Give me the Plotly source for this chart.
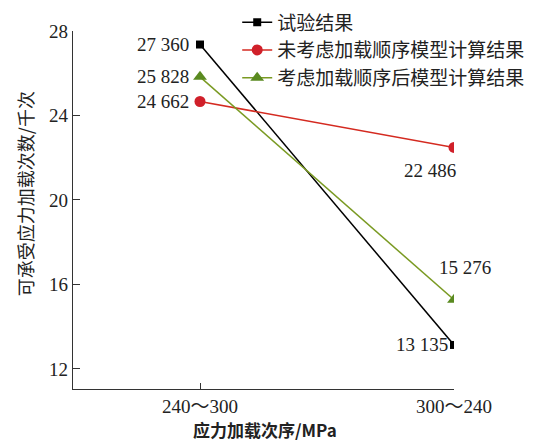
import plotly.graph_objects as go

categories = ["240～300", "300～240"]
series_names = ["试验结果", "未考虑加载顺序模型计算结果", "考虑加载顺序后模型计算结果"]
test_values = [27.360, 13.135]
model_no_order = [24.662, 22.486]
model_order = [25.828, 15.276]
y_ticks = [12, 16, 20, 24, 28]

FONT = "Liberation Serif, Times New Roman, Noto Sans CJK SC"
CJK = "Noto Sans CJK SC"

def fmt(v):
    return f"{int(round(v * 1000)):,}".replace(",", " ")

fig = go.Figure()
specs = [
    (test_values, "#000000", "#000000", "square", 8),
    (model_no_order, "#d42a20", "#d0202a", "circle", 11),
    (model_order, "#7a9a22", "#5a8a20", "triangle-up", 12),
]
for name, (vals, col, mcol, sym, sz) in zip(series_names, specs):
    fig.add_trace(go.Scatter(
        x=[0, 1], y=vals, name=name, mode="lines+markers",
        line=dict(color=col, width=1.5),
        marker=dict(symbol=sym, size=sz, color=mcol),
    ))

# value labels: (xshift, yshift, xanchor, yanchor)
label_pos = [
    [(-9, 0, "right", "middle"), (-4, 0, "right", "middle")],
    [(-9, 0, "right", "middle"), (-24, -11, "center", "top")],
    [(-9, 0, "right", "middle"), (11, 20, "center", "bottom")],
]
for i, vals in enumerate([test_values, model_no_order, model_order]):
    for j, v in enumerate(vals):
        dx, dy, xa, ya = label_pos[i][j]
        fig.add_annotation(x=j, y=v, text=fmt(v), showarrow=False,
                           xshift=dx, yshift=dy, xanchor=xa, yanchor=ya,
                           font=dict(size=19, color="#222", family=FONT))

fig.update_layout(
    width=551, height=433,
    margin=dict(l=65, r=105, t=23, b=52, autoexpand=False),
    paper_bgcolor="white", plot_bgcolor="white",
    font=dict(family=FONT, size=19, color="#222"),
    legend=dict(x=0.431, y=1.077, xanchor="left", yanchor="top",
                font=dict(size=19, family=CJK, color="#222"),
                bgcolor="rgba(0,0,0,0)", tracegroupgap=0, itemwidth=30),
    xaxis=dict(range=[-0.5, 1], tickmode="array", tickvals=[0, 1], ticktext=categories,
               showline=True, linecolor="#333", linewidth=1.2, ticks="inside",
               ticklen=6, tickcolor="#333", showgrid=False, zeroline=False,
               automargin=False),
    yaxis=dict(range=[11.05, 28], tickvals=y_ticks, showline=True, linecolor="#333",
               linewidth=1.2, ticks="inside", ticklen=7, tickcolor="#333",
               showgrid=False, zeroline=False, automargin=False),
)
fig.add_annotation(xref="paper", yref="paper", x=0.698, y=-0.072, yanchor="top",
                   text="<b>应力加载次序/MPa</b>", showarrow=False,
                   font=dict(size=17, family=CJK, color="#222"))
fig.add_annotation(xref="paper", yref="paper", x=-0.126, y=0.547, xanchor="center",
                   text="可承受应力加载次数/千次", textangle=-90, showarrow=False,
                   font=dict(size=18, family=CJK, color="#222"))
fig.write_html("out.html")
